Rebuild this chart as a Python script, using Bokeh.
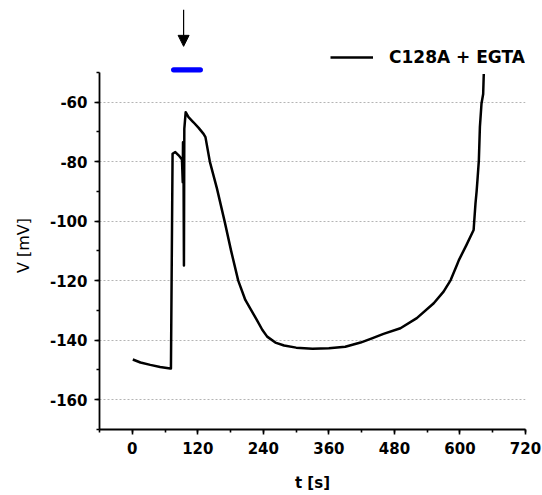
from bokeh.plotting import figure
from bokeh.models import (Range1d, SingleIntervalTicker, Legend, LegendItem,
                          Arrow, NormalHead, ColumnDataSource, CustomJSTickFormatter)
from bokeh.embed import file_html
from bokeh.resources import INLINE

# ---- data ----
series_name = "C128A + EGTA"
t_s = [1, 15, 33, 51, 69.5, 70.8, 73.8, 78.8, 84.9, 91.0, 92.4, 92.9, 93.8, 94.6, 95.3,
       97.8, 103, 112, 121.5, 130.5, 134, 142, 155, 169, 181, 194, 207, 218, 228, 238,
       247, 262, 278, 300, 330, 360, 390, 418, 440, 460, 491, 521, 552, 570, 583,
       595, 598, 612, 625, 628.4, 630.5, 632, 634.6, 636.5, 639.4, 642.5, 643.6]
v_mV = [-146.5, -147.5, -148.3, -149.0, -149.5, -149.5, -77.4, -76.8, -77.9, -79.3,
        -86.9, -73.5, -78.5, -114.9, -69, -63.4, -65.1, -66.8, -68.7, -70.7,
        -71.8, -80, -89, -100, -110, -120, -126.5, -130, -133.2, -136.5,
        -138.8, -140.8, -141.8, -142.5, -142.9, -142.7, -142.2, -140.8, -139.3, -137.9,
        -136.0, -132.6, -127.6, -123.7, -119.8, -114.5, -113.1, -108, -103, -94.1,
        -90, -86.3, -79.6, -68.4, -60.6, -57.3, -50.6]
x_tick_interval = 120
y_tick_interval = 20
x_axis_bounds = (-60, 720)
y_axis_bounds = (-170, -50)
stim_bar_t = [75.8, 124.6]
stim_bar_v = [-49.2, -49.2]
arrow_t = 94
arrow_v = [-29.0, -41.3]
x_title = "t [s]"
y_title = "V [mV]"

FONT = "DejaVu Sans"
NBSP = "\u00a0"

p = figure(width=542, height=495, output_backend="svg", toolbar_location=None,
           x_range=Range1d(-60, 720), y_range=Range1d(-170, -25.9),
           min_border_left=99, min_border_right=17, min_border_top=0,
           min_border_bottom=66)
p.outline_line_color = None
p.background_fill_color = "white"
p.border_fill_color = "white"

# trace
src = ColumnDataSource(dict(t=t_s, v=v_mV))
trace = p.line("t", "v", source=src, line_color="black", line_width=2.5, line_join="round")

# stimulus bar and arrow
p.line(stim_bar_t, stim_bar_v, line_color="#0000ff", line_width=5.3, line_cap="round")
p.add_layout(Arrow(end=NormalHead(size=11, fill_color="black", line_color="black", line_width=1),
                   x_start=arrow_t, y_start=arrow_v[0], x_end=arrow_t, y_end=arrow_v[1],
                   line_color="black", line_width=1.2))

# axes
xt = SingleIntervalTicker(interval=x_tick_interval, num_minor_ticks=2)
yt = SingleIntervalTicker(interval=y_tick_interval, num_minor_ticks=2)
p.xaxis.ticker = xt
p.yaxis.ticker = yt
p.xaxis.bounds = x_axis_bounds
p.yaxis.bounds = y_axis_bounds
fmt = CustomJSTickFormatter(code="return String(tick);")
for ax in (p.xaxis[0], p.yaxis[0]):
    ax.formatter = fmt
    ax.axis_line_width = 1.8
    ax.axis_line_color = "black"
    ax.major_tick_line_width = 1.6
    ax.minor_tick_line_width = 1.6
    ax.major_tick_in = 0
    ax.minor_tick_in = 0
    ax.major_tick_out = 5
    ax.minor_tick_out = 3
    ax.major_tick_line_color = "black"
    ax.minor_tick_line_color = "black"
    ax.major_label_text_font = FONT
    ax.major_label_text_font_style = "bold"
    ax.major_label_text_font_size = "15px"
    ax.major_label_text_color = "black"
p.xaxis.major_label_standoff = 7
p.yaxis.major_label_standoff = 7

p.xaxis.axis_label = x_title
p.xaxis.axis_label_text_font = FONT
p.xaxis.axis_label_text_font_style = "bold"
p.xaxis.axis_label_text_font_size = "15px"
p.xaxis.axis_label_text_color = "black"
p.xaxis.axis_label_standoff = 17

# y title: padded with no-break spaces so that it sits centred on the axis bounds
p.yaxis.axis_label = y_title + NBSP * 12
p.yaxis.axis_label_text_font = FONT
p.yaxis.axis_label_text_font_style = "normal"
p.yaxis.axis_label_text_font_size = "16px"
p.yaxis.axis_label_text_color = "black"
p.yaxis.axis_label_standoff = 14

# grid
p.xgrid.visible = False
p.ygrid.ticker = yt
p.ygrid.bounds = (-160, -60)
p.ygrid.grid_line_color = "#b4b4b4"
p.ygrid.grid_line_dash = "2 2"
p.ygrid.grid_line_width = 1

legend = Legend(items=[LegendItem(label=series_name, renderers=[trace])],
                location=(231, 362), border_line_color=None, background_fill_alpha=0,
                padding=0, margin=0, glyph_width=43, glyph_height=20, label_height=20,
                label_standoff=16, label_text_font=FONT, label_text_font_style="bold",
                label_text_font_size="17px", label_text_color="black")
p.add_layout(legend)

open("out.html", "w").write(file_html(p, INLINE))
